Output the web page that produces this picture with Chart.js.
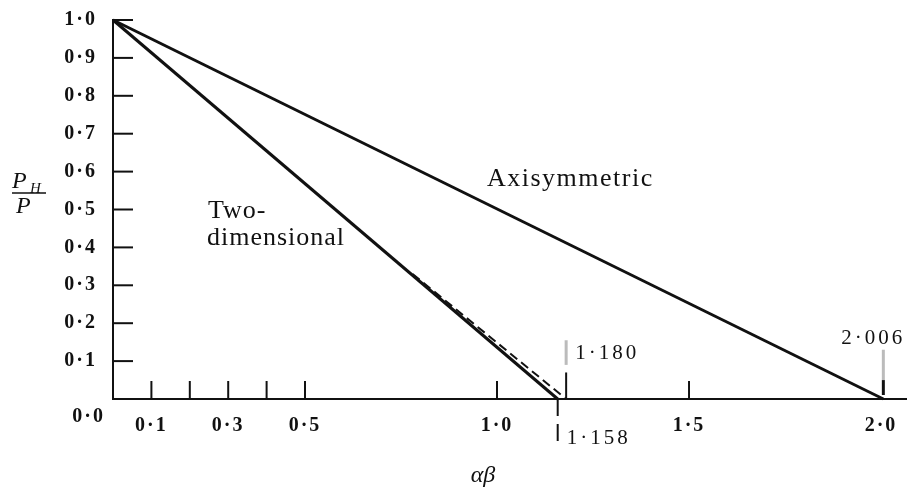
<!DOCTYPE html>
<html>
<head>
<meta charset="utf-8">
<title>Load ratio against αβ</title>
<script src="https://cdn.jsdelivr.net/npm/chart.js@4.4.0/dist/chart.umd.min.js"></script>
<style>
  html, body { margin: 0; padding: 0; background: #fff; }
  #chart { display: block; }
</style>
</head>
<body>
<canvas id="chart" width="908" height="487"></canvas>
<script>
// Straight-line limits of P_H/P for both cases
const twoDimX = [0, 1.158];
const twoDimY = [1.0, 0.0];
const axisymX = [0, 2.006];
const axisymY = [1.0, 0.0];
// dashed approximation close to the two-dimensional line
const dashedX = [0.78, 1.18];
const dashedY = [0.33, 0.0];

const yTickValues = [0.1, 0.2, 0.3, 0.4, 0.5, 0.6, 0.7, 0.8, 0.9, 1.0];
const xTickMarks = [0.1, 0.2, 0.3, 0.4, 0.5, 1.0, 1.5];
const xTickLabels = [0.1, 0.3, 0.5, 1.0, 1.5, 2.0];
const limitValues = [1.158, 1.180, 2.006];

const INK = '#111';
const SERIF = "'Liberation Serif', 'Times New Roman', serif";

function fmt(v, digits) {
    return v.toFixed(digits).replace('.', '·');
}

function toPoints(xs, ys) {
    return xs.map((x, i) => ({ x: x, y: ys[i] }));
}

function createDataset(label, xs, ys, width, dash) {
    return {
        label: label,
        data: toPoints(xs, ys),
        borderColor: INK,
        borderWidth: width,
        borderDash: dash || [],
        pointRadius: 0,
        tension: 0,
        clip: false
    };
}

function text(ctx, str, x, y, font, align, spacing) {
    ctx.font = font;
    ctx.textAlign = align || 'left';
    ctx.letterSpacing = (spacing || 0) + 'px';
    ctx.fillText(str, x, y);
}

function vline(ctx, x, y1, y2, color, width) {
    ctx.strokeStyle = color;
    ctx.lineWidth = width;
    ctx.beginPath();
    ctx.moveTo(x, y1);
    ctx.lineTo(x, y2);
    ctx.stroke();
}

// inner tick marks, limit markers and the hand-placed labels
const figureDecor = {
    id: 'figureDecor',
    beforeDraw(chart) {
        chart.ctx.letterSpacing = '2px';
    },
    afterDraw(chart) {
        const ctx = chart.ctx;
        const xs = chart.scales.x;
        const ys = chart.scales.y;
        const left = xs.left;
        const base = ys.getPixelForValue(0);
        ctx.save();
        ctx.lineCap = 'butt';

        // ticks pointing into the plot
        ctx.strokeStyle = INK;
        ctx.lineWidth = 2;
        yTickValues.forEach(v => {
            const py = ys.getPixelForValue(v);
            ctx.beginPath();
            ctx.moveTo(left, py);
            ctx.lineTo(left + 20, py);
            ctx.stroke();
        });
        xTickMarks.forEach(v => {
            const px = xs.getPixelForValue(v);
            ctx.beginPath();
            ctx.moveTo(px, base);
            ctx.lineTo(px, base - 18);
            ctx.stroke();
        });

        // limit markers
        const pLow = xs.getPixelForValue(limitValues[0]);
        const pMid = xs.getPixelForValue(limitValues[1]);
        const pHigh = xs.getPixelForValue(limitValues[2]);
        vline(ctx, pLow, base, base + 17, INK, 2);
        vline(ctx, pLow, base + 25, base + 42, INK, 2);
        vline(ctx, pMid, base, ys.getPixelForValue(0.07), INK, 2);
        vline(ctx, pMid, ys.getPixelForValue(0.09), ys.getPixelForValue(0.155), '#bbb', 3);
        vline(ctx, pHigh, base - 4, ys.getPixelForValue(0.05), INK, 3);
        vline(ctx, pHigh, ys.getPixelForValue(0.05), ys.getPixelForValue(0.13), '#bbb', 3);

        ctx.fillStyle = INK;
        ctx.textBaseline = 'middle';
        const tickFont = 'bold 20px ' + SERIF;
        const noteFont = '21px ' + SERIF;
        text(ctx, fmt(limitValues[1], 3), pMid + 9, ys.getPixelForValue(0.12), noteFont, 'left', 3);
        text(ctx, fmt(limitValues[0], 3), pLow + 9, base + 39, noteFont, 'left', 3);
        text(ctx, fmt(limitValues[2], 3), pHigh + 22, ys.getPixelForValue(0.16), noteFont, 'right', 3);
        text(ctx, fmt(0, 1), 105, base + 18, tickFont, 'right', 2);

        // curve names
        ctx.textBaseline = 'alphabetic';
        const labelFont = '26px ' + SERIF;
        text(ctx, 'Axisymmetric', 487, 186, labelFont, 'left', 1.5);
        text(ctx, 'Two-', 208, 218, labelFont, 'left', 1);
        text(ctx, 'dimensional', 207, 245, labelFont, 'left', 1);

        // axis titles
        text(ctx, 'αβ', 483, 482, 'italic 24px ' + SERIF, 'center', 0);
        text(ctx, 'P', 12, 188, 'italic 24px ' + SERIF, 'left', 0);
        text(ctx, 'H', 30, 193, 'italic 15px ' + SERIF, 'left', 0);
        text(ctx, 'P', 16, 213, 'italic 24px ' + SERIF, 'left', 0);
        ctx.strokeStyle = INK;
        ctx.lineWidth = 1.5;
        ctx.beginPath();
        ctx.moveTo(12, 193);
        ctx.lineTo(46, 193);
        ctx.stroke();

        ctx.restore();
    }
};

const tickFont = { family: SERIF, size: 20, weight: 'bold' };

new Chart(document.getElementById('chart').getContext('2d'), {
    type: 'line',
    data: {
        datasets: [
            createDataset('Axisymmetric', axisymX, axisymY, 3),
            createDataset('Two-dimensional', twoDimX, twoDimY, 3),
            createDataset('Two-dimensional (dashed)', dashedX, dashedY, 2, [9, 5])
        ]
    },
    options: {
        responsive: false,
        animation: false,
        layout: { padding: { top: 16, right: 2, left: 0, bottom: 0 } },
        plugins: {
            legend: { display: false },
            tooltip: { enabled: false }
        },
        scales: {
            x: {
                type: 'linear',
                min: 0,
                max: 2.065,
                afterBuildTicks: scale => { scale.ticks = xTickLabels.map(v => ({ value: v })); },
                afterFit: scale => { scale.height = 88; },
                grid: { display: false },
                border: { display: true, color: INK, width: 2 },
                ticks: {
                    padding: 7,
                    autoSkip: false,
                    maxRotation: 0,
                    color: INK,
                    font: tickFont,
                    callback: v => fmt(v, 1)
                }
            },
            y: {
                min: 0,
                max: 1.0,
                afterBuildTicks: scale => { scale.ticks = yTickValues.map(v => ({ value: v })); },
                afterFit: scale => { scale.width = 113; },
                grid: { display: false },
                border: { display: true, color: INK, width: 2 },
                ticks: {
                    padding: 8,
                    color: INK,
                    font: tickFont,
                    callback: v => fmt(v, 1)
                }
            }
        }
    },
    plugins: [figureDecor]
});
</script>
</body>
</html>
